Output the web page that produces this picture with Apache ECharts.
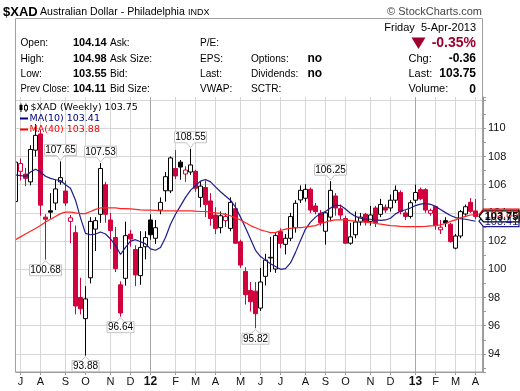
<!DOCTYPE html>
<html><head><meta charset="utf-8">
<script src="https://cdn.jsdelivr.net/npm/echarts@6/dist/echarts.min.js"></script>
<style>html,body{margin:0;padding:0;background:#fff}#c{width:520px;height:391px}</style>
</head><body><div id="c"></div>
<script>
// ---- data (weekly, week-start Mondays) ----
const weeks = ['2011-06-27','2011-07-04','2011-07-11','2011-07-18','2011-07-25',
'2011-08-01','2011-08-08','2011-08-15','2011-08-22','2011-08-29',
'2011-09-05','2011-09-12','2011-09-19','2011-09-26',
'2011-10-03','2011-10-10','2011-10-17','2011-10-24','2011-10-31',
'2011-11-07','2011-11-14','2011-11-21','2011-11-28',
'2011-12-05','2011-12-12','2011-12-19','2011-12-26',
'2012-01-02','2012-01-09','2012-01-16','2012-01-23','2012-01-30',
'2012-02-06','2012-02-13','2012-02-20','2012-02-27',
'2012-03-05','2012-03-12','2012-03-19','2012-03-26',
'2012-04-02','2012-04-09','2012-04-16','2012-04-23','2012-04-30',
'2012-05-07','2012-05-14','2012-05-21','2012-05-28',
'2012-06-04','2012-06-11','2012-06-18','2012-06-25',
'2012-07-02','2012-07-09','2012-07-16','2012-07-23','2012-07-30',
'2012-08-06','2012-08-13','2012-08-20','2012-08-27',
'2012-09-03','2012-09-10','2012-09-17','2012-09-24',
'2012-10-01','2012-10-08','2012-10-15','2012-10-22','2012-10-29',
'2012-11-05','2012-11-12','2012-11-19','2012-11-26',
'2012-12-03','2012-12-10','2012-12-17','2012-12-24','2012-12-31',
'2013-01-07','2013-01-14','2013-01-21','2013-01-28',
'2013-02-04','2013-02-11','2013-02-18','2013-02-25',
'2013-03-04','2013-03-11','2013-03-18','2013-03-25',
'2013-04-01','2013-04-08'];

const opens = [104.8,106.95,106.75,106.2,108.45,109.6,103.7,104.15,104.7,106.2,
105.55,103.4,102.6,98.0,96.5,99.4,102.85,103.9,106.0,103.5,
102.25,98.9,99.36,102.5,101.4,99.55,101.6,103.5,102.2,104.2,
105.57,105.56,107.15,107.6,106.76,106.9,106.95,105.1,105.8,104.85,
103.85,102.95,103.45,102.9,104.3,101.95,99.85,98.5,98.45,97.25,
99.5,100.8,100.02,102.67,101.77,102.2,102.95,104.92,105.04,105.67,
104.49,103.97,102.7,103.7,105.2,104.3,103.6,101.85,102.45,103.35,
103.9,103.4,104.35,103.9,104.4,104.35,104.9,105.45,104.0,103.75,
104.9,105.65,105.65,103.97,104.45,102.8,103.45,103.2,101.5,102.36,
103.92,104.75,104.14];

const highs = [107.75,107.85,107.2,108.8,110.3,109.9,103.9,105.4,106.35,107.65,
106.3,103.85,103.1,99.4,98.8,103.7,103.7,107.53,106.2,104.0,
103.0,99.15,103.38,102.8,101.7,102.7,102.7,103.9,103.5,105.1,
106.9,108.0,108.45,107.75,107.3,108.55,107.05,106.2,106.3,105.4,
104.4,104.1,104.0,105.1,104.75,102.1,100.15,99.1,99.1,100.1,
101.1,102.3,102.6,102.9,102.5,104.0,104.9,105.95,106.03,105.8,
104.7,104.2,104.1,106.25,105.4,104.6,103.8,103.3,104.1,104.0,
104.0,104.5,104.5,105.0,104.6,105.3,105.95,105.6,104.2,104.9,
106.0,105.8,105.75,104.3,104.5,103.5,103.7,103.3,102.5,104.2,
104.6,105.05,104.98];

const lows = [104.4,106.3,105.9,105.95,108.0,103.8,100.68,103.6,104.2,106.0,
104.5,101.85,96.8,96.8,93.88,99.0,101.3,103.3,103.3,101.45,
99.8,96.64,98.84,101.6,98.8,98.9,100.7,102.1,101.8,103.9,
104.8,105.4,106.4,106.35,106.2,106.7,105.5,104.4,103.7,103.1,
102.5,102.55,103.0,102.7,101.8,100.1,97.5,97.0,95.82,97.05,
98.85,99.8,99.75,101.5,101.06,102.0,102.6,104.7,104.8,104.0,
103.9,103.1,101.75,103.4,103.8,103.5,101.8,101.75,102.2,103.1,
103.1,103.1,103.0,103.7,104.0,104.1,104.7,103.9,103.5,103.6,
104.7,104.9,104.0,103.8,102.8,102.5,103.0,101.9,101.42,102.2,
103.8,104.0,103.55];

const closes = [107.6,107.5,106.45,108.5,109.5,104.55,103.55,104.05,105.7,106.5,
104.7,103.65,97.4,97.2,97.9,103.4,103.45,107.15,103.9,102.75,
100.05,96.9,102.39,102.15,99.6,101.55,102.25,102.45,102.95,104.75,
106.57,107.9,106.62,107.25,107.04,107.4,105.75,105.9,104.6,103.6,
102.9,103.8,103.75,104.75,101.85,100.3,98.2,97.7,96.85,99.1,
100.65,100.85,102.39,101.84,102.2,103.74,104.68,105.6,105.67,104.2,
104.09,103.3,104.0,105.6,104.35,103.85,101.85,102.3,103.35,103.7,
103.35,103.85,103.3,104.6,104.2,104.9,105.6,104.1,103.75,104.72,
105.45,105.0,104.2,104.18,103.1,102.98,103.28,101.96,102.36,104.09,
104.44,104.11,103.75];

const ma10 = [106.7,106.65,106.6,106.9,107.1,106.9,106.6,106.45,106.35,106.3,
106.0,105.75,104.9,103.65,102.55,102.45,102.5,102.65,102.5,102.15,
101.7,101.05,101.55,102.0,102.1,101.95,101.8,101.45,101.35,101.55,
102.25,103.2,103.9,104.5,105.1,105.6,105.95,106.25,106.37,106.2,
105.85,105.5,105.2,104.9,104.4,103.7,102.95,102.15,101.35,100.9,
100.65,100.4,100.2,100.0,100.05,100.45,101.2,102.05,102.85,103.35,
103.7,103.95,104.1,104.35,104.55,104.52,104.28,103.98,103.75,103.62,
103.55,103.55,103.5,103.47,103.5,103.62,103.93,104.12,104.22,104.35,
104.52,104.62,104.68,104.61,104.46,104.24,104.02,103.82,103.67,103.6,
103.55,103.48,103.41];

const ma40 = [102.1,102.3,102.5,102.7,102.9,103.1,103.35,103.55,103.75,103.95,
104.05,104.05,104.0,103.95,103.95,104.1,104.25,104.35,104.35,104.35,
104.35,104.3,104.3,104.28,104.25,104.22,104.2,104.2,104.18,104.15,
104.15,104.15,104.15,104.15,104.15,104.15,104.12,104.1,104.1,104.05,
104.0,103.97,103.9,103.8,103.65,103.5,103.3,103.1,102.95,102.8,
102.7,102.6,102.6,102.75,102.85,102.9,102.95,102.95,103.0,103.05,
103.1,103.25,103.35,103.45,103.5,103.5,103.5,103.45,103.42,103.4,
103.35,103.3,103.25,103.2,103.15,103.1,103.08,103.05,103.03,103.02,
103.02,103.03,103.05,103.08,103.1,103.15,103.25,103.4,103.5,103.65,
103.75,103.85,103.88];

const monthLetters = ['J','F','M','A','M','J','J','A','S','O','N','D'];
const yTickValues = [94,96,98,100,102,104,106,108,110];
const highMarks = [9,17,35,63];   // candle indices labelled with their high
const lowMarks = [6,14,21,48];    // candle indices labelled with their low

// ---- styling ----
const FONT = '"Liberation Sans", Arial, Helvetica, sans-serif';
const LFONT = '"DejaVu Sans", Verdana, sans-serif';
const RED = '#d2003c';
const last = closes.length - 1;

const isMonthStart = i => i > 0 && weeks[i].slice(5,7) !== weeks[i-1].slice(5,7);

const candleData = opens.map((o, i) => {
  const c = closes[i];
  const prev = i > 0 ? closes[i-1] : o;
  const stroke = c >= prev ? '#000' : RED;
  const fill = c > o ? '#fff' : stroke;
  return {value: [o, c, lows[i], highs[i]],
    itemStyle: {color: fill, color0: fill, borderColor: stroke, borderColor0: stroke, borderWidth: 1}};
});

const gridLines = [];
weeks.forEach((w, i) => {
  if (isMonthStart(i)) {
    const jan = w.slice(5,7) === '01';
    gridLines.push({xAxis: w, lineStyle: {color: jan ? '#a8a8a8' : '#d6d6d6', width: 1, type: 'solid'}});
  }
});

const option = {
  animation: false,
  backgroundColor: '#fff',
  textStyle: {fontFamily: FONT},
  grid: {left: 13, right: 37, top: 97, bottom: 19, containLabel: false, outerBoundsMode: 'none'},
  xAxis: {
    type: 'category', data: weeks, boundaryGap: true,
    axisLine: {show: true, lineStyle: {color: '#9a9a9a'}},
    axisTick: {show: true, alignWithLabel: true, interval: (i) => isMonthStart(i), length: 3, lineStyle: {color: '#9a9a9a'}},
    axisLabel: {
      interval: (i) => isMonthStart(i), margin: 4, color: '#111', fontSize: 11, fontFamily: FONT,
      formatter: (v) => { const m = +v.slice(5,7); return m === 1 ? '{y|' + v.slice(2,4) + '}' : monthLetters[m-1]; },
      rich: {y: {fontWeight: 'bold', fontSize: 12, color: '#111', fontFamily: FONT}}
    },
    splitLine: {show: false}
  },
  yAxis: {
    type: 'value', position: 'right', min: 92.716, max: 112.22, splitNumber: 10,
    axisLine: {show: true, lineStyle: {color: '#9a9a9a'}},
    axisTick: {show: true, length: 3, lineStyle: {color: '#9a9a9a'}},
    minorTick: {show: true, splitNumber: 2, length: 3, lineStyle: {color: '#9a9a9a'}},
    axisLabel: {margin: 5, color: '#111', fontSize: 11, fontFamily: FONT,
      formatter: (v) => yTickValues.some(t => Math.abs(t - v) < 1e-6) ? String(Math.round(v)) : ''},
    splitLine: {show: true, showMinLine: false, showMaxLine: false, lineStyle: {color: '#d6d6d6'}}
  },
  series: [
    {type: 'candlestick', name: '$XAD', data: candleData, barWidth: 4, z: 3,
      markLine: {silent: true, symbol: ['none','none'], label: {show: false}, z: 1, animation: false, data: gridLines}},
    {type: 'line', name: 'MA(10)', data: ma10, symbol: 'none', z: 4, lineStyle: {color: '#1c1c8c', width: 1.2}},
    {type: 'line', name: 'MA(40)', data: ma40, symbol: 'none', z: 4, lineStyle: {color: '#ff2424', width: 1.2}}
  ]
};

const chart = echarts.init(document.getElementById('c'), null, {renderer: 'canvas', width: 520, height: 391});
chart.setOption(option);

// ---- decorations ----
const P = (i, v) => chart.convertToPixel({xAxisIndex: 0, yAxisIndex: 0}, [i, v]);
const G = [];
function T(x, y, text, font, fill, align, extra) {
  G.push(Object.assign({type: 'text', x: x, y: y, z: 120, silent: true,
    style: {text: text, font: font, fill: fill, align: align || 'left', verticalAlign: 'middle',
            textAlign: align || 'left', textVerticalAlign: 'middle'}}, extra || {}));
}
const f = (s, w) => (w ? w + ' ' : '') + s + 'px ' + FONT;

// white mask left of the plot frame + frame
G.push({type: 'rect', z: 110, silent: true, shape: {x: 0, y: 96, width: 15.5, height: 278}, style: {fill: '#fff'}});
G.push({type: 'rect', z: 111, silent: true, shape: {x: 15.5, y: 18.5, width: 467, height: 353.5}, style: {fill: 'none', stroke: '#a0a0a0', lineWidth: 1}});

// title line
T(3, 12, '$XAD', f(13, 'bold'), '#000');
T(40, 12.5, 'Australian Dollar - Philadelphia', f(10.6), '#000');
T(188, 13, 'INDX', f(9), '#000');
T(482, 11.5, '\u00A9 StockCharts.com', f(11), '#444', 'right');

// header table
const chg = closes[last] - closes[last-1];
const pct = chg / closes[last-1] * 100;
const rows = [43.3, 58.6, 73.9, 89.2];
const valFont = f(11, 'bold');
const lab = {scaleX: 0.92};
T(20.5, rows[0], 'Open:', f(11), '#000', 'left', lab);
T(20.5, rows[1], 'High:', f(11), '#000', 'left', lab);
T(20.5, rows[2], 'Low:', f(11), '#000', 'left', lab);
T(20.5, rows[3], 'Prev Close:', f(11), '#000', 'left', {scaleX: 0.86});
T(73, rows[0], opens[last].toFixed(2), valFont, '#000');
T(73, rows[1], highs[last].toFixed(2), valFont, '#000');
T(73, rows[2], lows[last].toFixed(2), valFont, '#000');
T(73, rows[3], closes[last-1].toFixed(2), valFont, '#000');
T(110, rows[0], 'Ask:', f(11), '#000', 'left', lab);
T(110, rows[1], 'Ask Size:', f(11), '#000', 'left', lab);
T(110, rows[2], 'Bid:', f(11), '#000', 'left', lab);
T(110, rows[3], 'Bid Size:', f(11), '#000', 'left', lab);
T(200, rows[0], 'P/E:', f(11), '#000', 'left', lab);
T(200, rows[1], 'EPS:', f(11), '#000', 'left', lab);
T(200, rows[2], 'Last:', f(11), '#000', 'left', lab);
T(200, rows[3], 'VWAP:', f(11), '#000', 'left', lab);
T(251, rows[1], 'Options:', f(11), '#000', 'left', lab);
T(251, rows[2], 'Dividends:', f(11), '#000', 'left', lab);
T(251, rows[3], 'SCTR:', f(11), '#000', 'left', lab);
T(307.5, rows[1], 'no', f(12, 'bold'), '#000');
T(307.5, rows[2], 'no', f(12, 'bold'), '#000');
T(476, 28.3, 'Friday  5-Apr-2013', f(11), '#000', 'right');
G.push({type: 'polygon', z: 120, silent: true, shape: {points: [[411.5, 37.5], [425.5, 37.5], [418.5, 49]]}, style: {fill: '#a0002e'}});
T(476, 43.5, pct.toFixed(2) + '%', f(14, 'bold'), '#a0002e', 'right');
T(408.5, rows[1], 'Chg:', f(11), '#000');
T(408.5, rows[2], 'Last:', f(11), '#000');
T(408.5, rows[3], 'Volume:', f(11), '#000');
T(476, rows[1], chg.toFixed(2), f(12, 'bold'), '#000', 'right');
T(476, rows[2], closes[last].toFixed(2), f(12, 'bold'), '#000', 'right');
T(476, rows[3], '0', f(12, 'bold'), '#000', 'right');

// legend
G.push({type: 'line', z: 120, silent: true, shape: {x1: 21, y1: 103.5, x2: 21, y2: 112}, style: {stroke: '#000', lineWidth: 1}});
G.push({type: 'rect', z: 120, silent: true, shape: {x: 19.5, y: 105, width: 3, height: 5}, style: {fill: '#000'}});
G.push({type: 'line', z: 120, silent: true, shape: {x1: 26, y1: 103.5, x2: 26, y2: 112}, style: {stroke: '#000', lineWidth: 1}});
G.push({type: 'rect', z: 120, silent: true, shape: {x: 24.5, y: 105.5, width: 3, height: 4.5}, style: {fill: '#fff', stroke: '#000', lineWidth: 1}});
T(30.5, 107.7, '$XAD (Weekly) ' + closes[last].toFixed(2), '9.5px ' + LFONT, '#000');
G.push({type: 'line', z: 120, silent: true, shape: {x1: 20, y1: 118.5, x2: 28, y2: 118.5}, style: {stroke: '#000080', lineWidth: 2}});
T(29.5, 118.4, 'MA(10) ' + ma10[last].toFixed(2), '9.5px ' + LFONT, '#000080');
G.push({type: 'line', z: 120, silent: true, shape: {x1: 20, y1: 129.5, x2: 28, y2: 129.5}, style: {stroke: '#ff0000', lineWidth: 2}});
T(29.5, 129.4, 'MA(40) ' + ma40[last].toFixed(2), '9.5px ' + LFONT, '#ff0000');

// high / low callouts
function callout(i, v, up) {
  const p = P(i, v);
  const cx = p[0], tip = p[1];
  const text = v.toFixed(2);
  const w = text.length * 5 + 2, h = 11;
  const x0 = cx - w / 2, x1 = cx + w / 2;
  let pts, ty;
  if (up) {
    const by = tip - 6; ty = by - h;
    pts = [[x0, ty], [x1, ty], [x1, by], [cx + 4, by], [cx, tip - 1], [cx - 4, by], [x0, by]];
  } else {
    ty = tip + 5; const by = ty + h;
    pts = [[x0, ty], [cx - 4, ty], [cx, tip + 1], [cx + 4, ty], [x1, ty], [x1, by], [x0, by]];
  }
  G.push({type: 'polygon', z: 115, silent: true, shape: {points: pts}, style: {fill: '#fff', stroke: '#c4c4c4', lineWidth: 1}});
  T(cx, ty + h / 2 + 0.5, text, f(10), '#000', 'center');
}
highMarks.forEach(i => callout(i, highs[i], true));
lowMarks.forEach(i => callout(i, lows[i], false));

// right side value tags
function tag(v, stroke, bold) {
  const y = P(last, v)[1];
  const pts = [[479, y], [483.5, y - 5.5], [519, y - 5.5], [519, y + 5.5], [483.5, y + 5.5]];
  G.push({type: 'polygon', z: 125, silent: true, shape: {points: pts}, style: {fill: '#fff', stroke: stroke, lineWidth: 1.2}});
  G.push({type: 'text', x: 501.5, y: y + 0.5, z: 126, silent: true,
    style: {text: v.toFixed(2), font: (bold ? 'bold ' : '') + '11px ' + FONT, fill: bold ? '#000' : stroke, align: 'center', verticalAlign: 'middle', textAlign: 'center', textVerticalAlign: 'middle'}});
}
tag(ma40[last], '#e00000', false);
tag(ma10[last], '#1c1c8c', false);
tag(closes[last], '#000', true);

chart.setOption({graphic: {elements: G}});
</script>
</body></html>
